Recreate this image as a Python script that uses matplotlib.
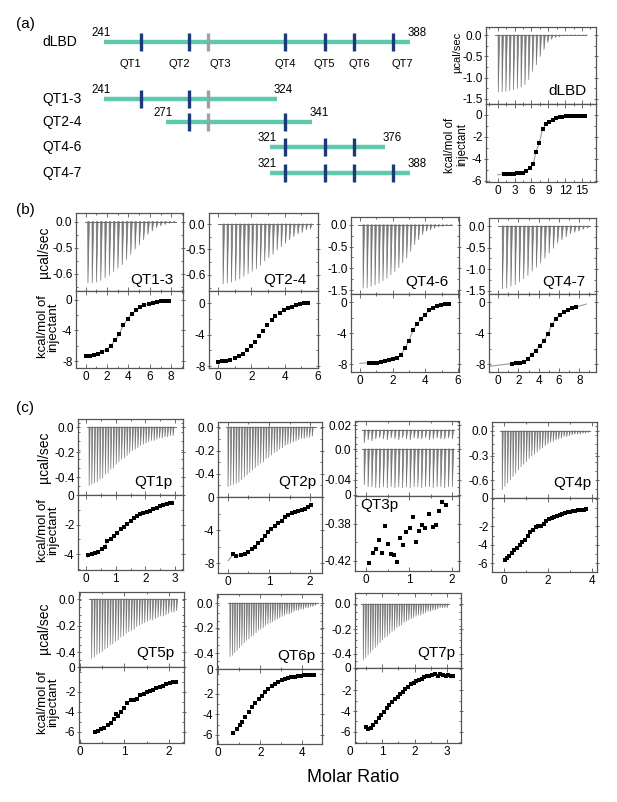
import matplotlib
matplotlib.use("Agg")
import matplotlib.pyplot as plt
import numpy as np
from matplotlib.ticker import AutoMinorLocator

plt.rcParams['font.family'] = ['Liberation Sans', 'DejaVu Sans']

# ---------------- data ----------------
# (a) construct map (residue numbers)
constructs = ["dLBD", "QT1-3", "QT2-4", "QT4-6", "QT4-7"]
starts = [241, 241, 271, 321, 321]
ends = [388, 324, 341, 376, 388]
qt_names = ["QT1", "QT2", "QT3", "QT4", "QT5", "QT6", "QT7"]
qt_sites = [259, 282, 291, 328, 347, 361, 380]

# thermogram peak heights (ucal/sec) and isotherms (molar ratio, kcal/mol)
dlbd_peaks = [-1.35, -1.34, -1.33, -1.31, -1.29, -1.26, -1.23, -1.17, -1.05, -0.86, -0.70, -0.51,
              -0.34, -0.18, -0.10, -0.06, -0.04, -0.02, -0.01, -0.01, -0.01, -0.01, -0.01, -0.01]
dlbd_x = [1.1, 1.7, 2.3, 2.8, 3.4, 3.9, 4.5, 5.1, 5.7, 6.3, 6.8, 7.4, 8.0, 8.6, 9.2, 9.8, 10.4,
          11.0, 11.5, 12.1, 12.7, 13.3, 13.9, 14.5, 15.1, 15.6]
dlbd_y = [-5.35, -5.33, -5.33, -5.33, -5.32, -5.30, -5.24, -5.09, -4.85, -4.50, -3.35, -2.52, -1.25,
          -0.85, -0.60, -0.42, -0.30, -0.22, -0.16, -0.12, -0.09, -0.07, -0.05, -0.05, -0.05, -0.07]

qt13_peaks = [-0.71, -0.71, -0.70, -0.68, -0.65, -0.62, -0.58, -0.54, -0.50, -0.44, -0.38, -0.32,
              -0.27, -0.21, -0.15, -0.11, -0.07, -0.05, -0.035, -0.02, -0.01]
qt13_x = [0.06, 0.38, 0.79, 1.17, 1.55, 1.96, 2.33, 2.74, 3.12, 3.52, 3.93, 4.31, 4.72, 5.09, 5.47,
          5.88, 6.26, 6.67, 7.04, 7.45, 7.77]
qt13_y = [-7.31, -7.27, -7.18, -7.01, -6.80, -6.49, -6.02, -5.29, -4.52, -3.31, -2.49, -1.85, -1.38,
          -0.99, -0.73, -0.52, -0.39, -0.26, -0.17, -0.13, -0.09]

qt24_peaks = [-0.71, -0.70, -0.69, -0.67, -0.65, -0.62, -0.59, -0.56, -0.53, -0.49, -0.44, -0.40,
              -0.36, -0.31, -0.27, -0.23, -0.19, -0.15, -0.12, -0.10, -0.07, -0.06]
qt24_x = [0.02, 0.25, 0.51, 0.75, 1.0, 1.24, 1.49, 1.73, 1.98, 2.24, 2.47, 2.71, 2.96, 3.22, 3.45,
          3.71, 3.94, 4.2, 4.43, 4.69, 4.92, 5.18, 5.41]
qt24_y = [-7.43, -7.39, -7.30, -7.17, -7.0, -6.75, -6.41, -5.99, -5.48, -4.89, -4.18, -3.5, -2.78,
          -2.15, -1.65, -1.22, -0.89, -0.68, -0.46, -0.25, -0.13, -0.04, 0.0]

qt46_peaks = [-1.46, -1.45, -1.42, -1.39, -1.35, -1.29, -1.23, -1.15, -1.08, -0.99, -0.88, -0.77,
              -0.62, -0.46, -0.35, -0.23, -0.15, -0.12, -0.08, -0.05, -0.04, -0.02, -0.02]
qt46_x = [0.55, 0.80, 1.04, 1.29, 1.53, 1.78, 2.02, 2.27, 2.51, 2.76, 3.0, 3.25, 3.49, 3.74, 3.98,
          4.23, 4.47, 4.72, 4.96, 5.21, 5.45]
qt46_y = [-7.83, -7.82, -7.78, -7.72, -7.60, -7.47, -7.35, -7.19, -6.76, -5.95, -4.95, -3.65, -2.85,
          -2.2, -1.7, -1.05, -0.75, -0.55, -0.42, -0.3, -0.2]

qt47_peaks = [-1.46, -1.44, -1.40, -1.36, -1.30, -1.22, -1.15, -1.05, -0.96, -0.86, -0.75, -0.63,
              -0.52, -0.40, -0.32, -0.25, -0.18, -0.15, -0.12, -0.08, -0.05]
qt47_x = [1.35, 1.77, 2.17, 2.56, 2.92, 3.32, 3.71, 4.14, 4.53, 4.89, 5.29, 5.68, 6.08, 6.47, 6.86,
          7.26, 7.65]
qt47_y = [-7.91, -7.87, -7.83, -7.74, -7.35, -6.75, -6.24, -5.63, -5.03, -4.17, -2.97, -2.19, -1.68,
          -1.33, -1.03, -0.82, -0.65]

qt1p_peaks = [-0.47, -0.46, -0.45, -0.44, -0.42, -0.41, -0.38, -0.37, -0.34, -0.33, -0.30, -0.28,
              -0.26, -0.25, -0.23, -0.21, -0.19, -0.18, -0.17, -0.15, -0.14, -0.13, -0.12, -0.11,
              -0.11, -0.10, -0.09, -0.09, -0.08, -0.08, -0.07, -0.07]
qt1p_x = [0.08, 0.19, 0.30, 0.41, 0.53, 0.64, 0.72, 0.83, 0.94, 1.05, 1.17, 1.28, 1.39, 1.51, 1.62,
          1.73, 1.82, 1.93, 2.05, 2.16, 2.27, 2.38, 2.49, 2.61, 2.72, 2.83, 2.89]
qt1p_y = [-4.05, -3.99, -3.92, -3.83, -3.67, -3.49, -3.09, -3.0, -2.77, -2.55, -2.32, -2.14, -1.96,
          -1.76, -1.58, -1.42, -1.31, -1.24, -1.17, -1.06, -0.97, -0.88, -0.74, -0.68, -0.63, -0.56,
          -0.52]

qt2p_peaks = [-0.51, -0.50, -0.49, -0.48, -0.47, -0.45, -0.43, -0.41, -0.39, -0.37, -0.35, -0.33,
              -0.31, -0.30, -0.27, -0.26, -0.24, -0.22, -0.21, -0.19, -0.18, -0.16, -0.15, -0.14,
              -0.13, -0.12, -0.11, -0.10, -0.10, -0.09, -0.09, -0.08]
qt2p_x = [0.13, 0.21, 0.31, 0.42, 0.50, 0.58, 0.66, 0.74, 0.82, 0.90, 0.98, 1.06, 1.15, 1.23, 1.31,
          1.39, 1.47, 1.55, 1.63, 1.71, 1.80, 1.88, 1.96, 2.03]
qt2p_y = [-6.95, -7.11, -7.07, -6.91, -6.63, -6.34, -6.02, -5.62, -5.21, -4.73, -4.24, -3.92, -3.52,
          -3.19, -2.87, -2.46, -2.18, -1.98, -1.86, -1.70, -1.58, -1.49, -1.25, -0.97]

qt3p_ref_peaks = [0.006, 0.009, 0.008, 0.010, 0.011, 0.010, 0.009, 0.011, 0.010, 0.009, 0.011, 0.010,
                  0.009, 0.011, 0.010, 0.010, 0.011, 0.009, 0.010, 0.011, 0.010, 0.010, 0.011, 0.010]
qt3p_peaks = [-0.036, -0.038, -0.038, -0.039, -0.039, -0.038, -0.039, -0.038, -0.039, -0.038, -0.039,
              -0.038, -0.039, -0.038, -0.038, -0.039, -0.038, -0.038, -0.039, -0.038, -0.038, -0.039,
              -0.038, -0.038]
qt3p_x = [0.07, 0.15, 0.22, 0.29, 0.36, 0.43, 0.51, 0.58, 0.64, 0.71, 0.78, 0.86, 0.93, 1.02, 1.08,
          1.15, 1.24, 1.31, 1.38, 1.46, 1.55, 1.62, 1.70, 1.77, 1.86]
qt3p_y = [-0.4225, -0.4117, -0.4070, -0.3973, -0.4117, -0.3822, -0.4020, -0.4128, -0.4142, -0.4211,
          -0.3955, -0.4027, -0.3894, -0.3847, -0.3728, -0.3998, -0.3883, -0.3818, -0.3847, -0.3695,
          -0.3840, -0.3811, -0.3667, -0.3570, -0.3598]

qt4p_peaks = [-0.72, -0.68, -0.64, -0.60, -0.56, -0.52, -0.48, -0.44, -0.41, -0.38, -0.34, -0.31,
              -0.29, -0.26, -0.23, -0.21, -0.18, -0.16, -0.14, -0.13, -0.11, -0.10, -0.09, -0.07,
              -0.07, -0.06, -0.05, -0.04, -0.04, -0.04, -0.03, -0.03, -0.02]
qt4p_x = [0.02, 0.12, 0.23, 0.35, 0.47, 0.59, 0.71, 0.83, 0.95, 1.07, 1.20, 1.32, 1.44, 1.56, 1.68,
          1.80, 1.92, 2.04, 2.16, 2.29, 2.41, 2.53, 2.65, 2.77, 2.89, 3.01, 3.13, 3.25, 3.38, 3.50,
          3.62, 3.74]
qt4p_y = [-5.69, -5.44, -5.19, -4.90, -4.61, -4.32, -4.03, -3.74, -3.45, -3.0, -2.65, -2.37, -2.08,
          -1.94, -2.0, -1.75, -1.4, -1.25, -1.12, -0.95, -0.85, -0.78, -0.63, -0.52, -0.45, -0.41,
          -0.34, -0.31, -0.27, -0.27, -0.20, -0.13]

qt5p_peaks = [-0.45, -0.44, -0.42, -0.41, -0.40, -0.38, -0.37, -0.35, -0.34, -0.32, -0.31, -0.29,
              -0.28, -0.26, -0.25, -0.24, -0.23, -0.21, -0.20, -0.19, -0.18, -0.17, -0.16, -0.16,
              -0.15, -0.14, -0.13, -0.13, -0.12, -0.11, -0.10, -0.10, -0.09]
qt5p_x = [0.33, 0.40, 0.48, 0.55, 0.63, 0.70, 0.76, 0.82, 0.86, 0.92, 1.0, 1.07, 1.14, 1.22, 1.28,
          1.35, 1.43, 1.50, 1.57, 1.65, 1.72, 1.80, 1.87, 1.94, 2.02, 2.09, 2.15]
qt5p_y = [-5.97, -5.87, -5.73, -5.57, -5.33, -5.07, -4.73, -4.20, -4.40, -4.0, -3.63, -3.13, -2.83,
          -2.77, -2.67, -2.3, -2.17, -2.03, -1.9, -1.75, -1.62, -1.5, -1.35, -1.2, -1.1, -1.0, -0.95]

qt6p_peaks = [-0.43, -0.42, -0.40, -0.38, -0.36, -0.34, -0.32, -0.30, -0.29, -0.27, -0.26, -0.24,
              -0.22, -0.21, -0.20, -0.18, -0.17, -0.16, -0.15, -0.14, -0.13, -0.12, -0.11, -0.10,
              -0.09, -0.09, -0.08, -0.07, -0.06, -0.06, -0.05, -0.05, -0.04, -0.04, -0.03, -0.03,
              -0.02]
qt6p_x = [0.73, 0.88, 1.04, 1.15, 1.30, 1.46, 1.61, 1.77, 1.92, 2.08, 2.23, 2.39, 2.54, 2.70, 2.85,
          3.01, 3.16, 3.32, 3.47, 3.63, 3.78, 3.94, 4.09, 4.25, 4.40, 4.55]
qt6p_y = [-5.84, -5.45, -5.03, -4.70, -4.21, -3.73, -3.30, -2.91, -2.52, -2.17, -1.81, -1.52, -1.26,
          -1.03, -0.84, -0.68, -0.55, -0.45, -0.37, -0.30, -0.25, -0.21, -0.18, -0.15, -0.12, -0.10]

qt7p_peaks = [-0.45, -0.43, -0.41, -0.39, -0.37, -0.35, -0.33, -0.31, -0.29, -0.27, -0.26, -0.24,
              -0.22, -0.21, -0.19, -0.18, -0.17, -0.15, -0.14, -0.13, -0.12, -0.11, -0.10, -0.09,
              -0.09, -0.08, -0.07, -0.06, -0.06, -0.05, -0.05, -0.04, -0.03, -0.03, -0.03, -0.03]
qt7p_x = [0.51, 0.58, 0.65, 0.73, 0.82, 0.90, 0.98, 1.06, 1.14, 1.23, 1.31, 1.39, 1.48, 1.56, 1.64,
          1.72, 1.80, 1.89, 1.97, 2.05, 2.13, 2.22, 2.30, 2.38, 2.46, 2.55, 2.63, 2.71, 2.79, 2.87,
          2.96, 3.04, 3.12, 3.19]
qt7p_y = [-5.49, -5.75, -5.65, -5.33, -5.02, -4.70, -4.38, -4.06, -3.75, -3.43, -3.11, -2.89, -2.63,
          -2.38, -2.16, -1.94, -1.68, -1.46, -1.30, -1.14, -1.05, -0.95, -0.79, -0.67, -0.67, -0.57,
          -0.48, -0.67, -0.48, -0.57, -0.67, -0.57, -0.67, -0.67]

# ---------------- layout helpers ----------------
W, H = 617, 802
fig = plt.figure(figsize=(W / 100, H / 100), dpi=100)
FRAME = '#555555'
TRACE = '#6f6f6f'


def box(l, r, t, b):
    return [l / W, 1 - b / H, (r - l) / W, (b - t) / H]


def ftext(x, y, s, **kw):
    fig.text(x / W, 1 - y / H, s, **kw)


def style(ax, xlim, ylim):
    ax.set_xlim(*xlim)
    ax.set_ylim(*ylim)
    ax.xaxis.set_minor_locator(AutoMinorLocator(2))
    ax.yaxis.set_minor_locator(AutoMinorLocator(2))
    ax.tick_params(which='both', direction='in', top=True, right=True, labelsize=8.5,
                   color=FRAME, width=0.6, pad=2)
    ax.tick_params(which='major', length=2.6)
    ax.tick_params(which='minor', length=1.6)
    ax.tick_params(axis='y', which='major', direction='inout', length=3.5, pad=0.8)
    for s in ax.spines.values():
        s.set_color(FRAME)
        s.set_linewidth(0.9)


def thermogram(ax, peaks, t0, t1, b0, b1, base=0.0):
    t = np.linspace(t0, t1, len(peaks))
    dt = t[1] - t[0]
    ax.plot([b0, b1], [base, base], color=TRACE, lw=0.7)
    for ti, p in zip(t, peaks):
        ax.fill([ti, ti + 0.06 * dt, ti + 0.42 * dt], [base, p, base],
                color=TRACE, lw=0.5, alpha=0.9)


def itc(l, r, t, m, b, xlim, xticks, top_ylim, top_ticks, top_labels,
        bot_ylim, bot_ticks, peaks, tspan, bspan, px, py, fit_head=None, fit_tail=None):
    ax1 = fig.add_axes(box(l, r, t, m))
    ax2 = fig.add_axes(box(l, r, m, b))
    style(ax1, xlim, top_ylim)
    style(ax2, xlim, bot_ylim)
    ax1.set_xticks(xticks)
    ax1.tick_params(labelbottom=False)
    ax1.set_yticks(top_ticks, top_labels)
    ax2.set_xticks(xticks, [str(v) for v in xticks])
    ax2.set_yticks(bot_ticks, [str(v) for v in bot_ticks])
    if peaks is not None:
        thermogram(ax1, peaks, *tspan, *bspan)
    fx, fy = list(px), list(py)
    if fit_head:
        fx = [fit_head[0]] + fx
        fy = [fit_head[1]] + fy
    if fit_tail:
        fx = fx + [fit_tail[0]]
        fy = fy + [fit_tail[1]]
    if fit_head or fit_tail:
        ax2.plot(fx, fy, color='#9a9a9a', lw=0.8)
    ax2.plot(px, py, 's', ms=2.4, color='black', mew=0)
    return ax1, ax2


# ---------------- (a) construct map ----------------
ax0 = fig.add_axes(box(0, 440, 0, 190))
ax0.set_xlim(191.0, 402.5)
ax0.set_ylim(190, 0)
ax0.axis('off')
row_y = [42, 99, 122, 147, 173]
teal = '#5fc9b0'
navy = '#1d3a78'
for name, s, e, y in zip(constructs, starts, ends, row_y):
    ax0.plot([s, e], [y, y], color=teal, lw=3.2, solid_capstyle='butt', zorder=1)
    for q, qn in zip(qt_sites, qt_names):
        if s <= q <= e:
            c = '#9aa3a3' if qn == 'QT3' else navy
            ax0.plot([q, q], [y - 9, y + 9], color=c, lw=2.4, solid_capstyle='butt', zorder=2)
    ax0.annotate(str(s), (s, y), xytext=(-2.3, 6.6), textcoords='offset points',
                 ha='center', va='center', fontsize=8.3)
    ax0.annotate(str(e), (e, y), xytext=(5.0, 6.6), textcoords='offset points',
                 ha='center', va='center', fontsize=8.3)
    ax0.text(211.2, y, name, ha='left', va='center', fontsize=10)
label_shift = [-8, -7, 8.5, 0, -0.5, 4, 6.5]
for q, qn, sh in zip(qt_sites, qt_names, label_shift):
    ax0.annotate(qn, (q, row_y[0]), xytext=(sh, -15.5), textcoords='offset points',
                 ha='center', va='center', fontsize=8)

# dLBD ITC
itc(486, 596, 27, 104, 182, (-2.1, 17.5), [0, 3, 6, 9, 12, 15],
    (-1.62, 0.19), [0, -0.5, -1.0, -1.5], ['0.0', '-0.5', '-1.0', '-1.5'],
    (-6.1, 1.0), [0, -2, -4, -6], dlbd_peaks, (0.05, 15.65), (-0.5, 15.65),
    dlbd_x, dlbd_y, fit_head=(0.0, -5.45))
ftext(567, 91, 'dLBD', ha='center', va='center', fontsize=11)
ftext(457, 52, 'µcal/sec', rotation=90, ha='center', va='center', fontsize=8)
ftext(456, 145, 'kcal/mol of\ninjectant', rotation=90, ha='center', va='center',
      fontsize=8.3, linespacing=0.95)

# ---------------- (b) ----------------
itc(76, 183, 213, 291, 368, (-0.9, 9.1), [0, 2, 4, 6, 8],
    (-0.80, 0.10), [0, -0.3, -0.6], ['0.0', '-0.5', '-0.6'],
    (-8.9, 1.16), [0, -4, -8], qt13_peaks, (0.19, 8.2), (-0.1, 8.4),
    qt13_x, qt13_y, fit_head=(0.0, -7.35))
itc(209, 318, 213, 291, 368, (-0.53, 6.0), [0, 2, 4, 6],
    (-0.79, 0.13), [0, -0.3, -0.6], ['0.0', '-0.5', '-0.6'],
    (-8.23, 1.52), [0, -4, -8], qt24_peaks, (0.3, 5.53), (0.0, 5.7),
    qt24_x, qt24_y)
itc(351, 459, 217, 294, 372, (-0.55, 6.07), [0, 2, 4, 6],
    (-1.59, 0.18), [0, -0.5, -1.0, -1.5], ['0.0', '-0.5', '-1.0', '-1.5'],
    (-9.0, 1.03), [0, -4, -8], qt46_peaks, (0.18, 5.52), (-0.1, 5.65),
    qt46_x, qt46_y, fit_head=(0.0, -7.88))
itc(489, 596, 218, 294, 372, (-0.9, 9.65), [0, 2, 4, 6, 8],
    (-1.57, 0.185), [0, -0.5, -1.0, -1.5], ['0.0', '-0.5', '-1.0', '-1.5'],
    (-9.0, 1.03), [0, -4, -8], qt47_peaks, (0.4, 8.77), (0.0, 9.06),
    qt47_x, qt47_y, fit_head=(-0.8, -8.26), fit_tail=(8.7, -0.26))
ftext(152, 280, 'QT1-3', ha='center', va='center', fontsize=11)
ftext(285, 280, 'QT2-4', ha='center', va='center', fontsize=11)
ftext(427, 282, 'QT4-6', ha='center', va='center', fontsize=11)
ftext(564, 282, 'QT4-7', ha='center', va='center', fontsize=11)

# ---------------- (c) ----------------
itc(78, 183, 419, 495, 570, (-0.27, 3.27), [0, 1, 2, 3],
    (-0.544, 0.064), [0, -0.2, -0.4, -0.544], ['0.0', '-0.2', '-0.4', '0'],
    (-5.07, 0.0), [-2, -4], qt1p_peaks, (0.1, 2.93), (0.03, 3.03),
    qt1p_x, qt1p_y, fit_head=(0.05, -4.2))
itc(218, 322, 422, 497, 573, (-0.24, 2.29), [0, 1, 2],
    (-0.596, 0.043), [0, -0.2, -0.4, -0.596], ['0.0', '-0.2', '-0.4', '0'],
    (-9.2, 0.0), [-4, -8], qt2p_peaks, (0.0, 2.05), (-0.05, 2.15),
    qt2p_x, qt2p_y, fit_head=(0.01, -7.7))
a3t, a3b = itc(355, 459, 421, 496, 571, (-0.26, 2.16), [0, 1, 2],
               (-0.047, 0.028), [0.024, 0.0, -0.031, -0.0455], ['0.02', '0.0', '-0.04', '0'],
               (-0.431, -0.350), [-0.38, -0.42], qt3p_peaks, (-0.05, 2.0), (-0.1, 2.05),
               qt3p_x, qt3p_y)
thermogram(a3t, qt3p_ref_peaks, -0.05, 2.0, -0.1, 2.05, base=0.019)
itc(492, 597, 422, 498, 572, (-0.55, 4.23), [0, 2, 4],
    (-0.82, 0.11), [0, -0.3, -0.6, -0.82], ['0.0', '-0.3', '-0.6', '0'],
    (-6.97, 1.08), [-2, -4, -6], qt4p_peaks, (-0.09, 3.82), (-0.18, 3.91),
    qt4p_x, qt4p_y)
itc(79, 184, 592, 667, 743, (-0.02, 2.34), [0, 1, 2],
    (-0.513, 0.053), [0, -0.2, -0.4, -0.513], ['0.0', '-0.2', '-0.4', '0'],
    (-7.1, 0.5), [-2, -4, -6], qt5p_peaks, (0.26, 2.17), (0.21, 2.19),
    qt5p_x, qt5p_y)
itc(217, 322, 594, 669, 744, (-0.05, 4.93), [0, 2, 4],
    (-0.528, 0.072), [0, -0.2, -0.4, -0.528], ['0.0', '-0.2', '-0.4', '0'],
    (-6.88, 0.44), [-2, -4, -6], qt6p_peaks, (0.56, 4.6), (0.47, 4.74),
    qt6p_x, qt6p_y)
a7t, a7b = itc(355, 461, 593, 668, 743, (0.17, 3.43), [1, 2, 3],
               (-0.512, 0.088), [0, -0.2, -0.4, -0.512], ['0.0', '-0.2', '-0.4', '0'],
               (-7.05, 0.1), [-2, -4, -6], qt7p_peaks, (0.42, 3.0), (0.35, 3.06),
               qt7p_x, qt7p_y)
a7b.annotate('0', (0, 0), xycoords=a7b.get_xaxis_transform(), xytext=(0, -2),
             textcoords='offset points', ha='center', va='top', fontsize=8.5)

ftext(153, 482, 'QT1p', ha='center', va='center', fontsize=11)
ftext(297, 482, 'QT2p', ha='center', va='center', fontsize=11)
ftext(360, 505, 'QT3p', ha='left', va='center', fontsize=11)
ftext(572, 483, 'QT4p', ha='center', va='center', fontsize=11)
ftext(155, 653, 'QT5p', ha='center', va='center', fontsize=11)
ftext(296, 656, 'QT6p', ha='center', va='center', fontsize=11)
ftext(436, 653, 'QT7p', ha='center', va='center', fontsize=11)

# axis titles
for yc in (252, 457, 628):
    ftext(44, yc, 'µcal/sec', rotation=90, ha='center', va='center', fontsize=10)
for yc in (327, 530, 702):
    ftext(48, yc, 'kcal/mol of\ninjectant', rotation=90, ha='center', va='center',
          fontsize=9.5, linespacing=0.88)
ftext(353, 777, 'Molar Ratio', ha='center', va='center', fontsize=13)

ftext(16, 24, '(a)', ha='left', va='center', fontsize=11)
ftext(16, 210, '(b)', ha='left', va='center', fontsize=11)
ftext(16, 408, '(c)', ha='left', va='center', fontsize=11)

fig.savefig('out.png', dpi=100)
